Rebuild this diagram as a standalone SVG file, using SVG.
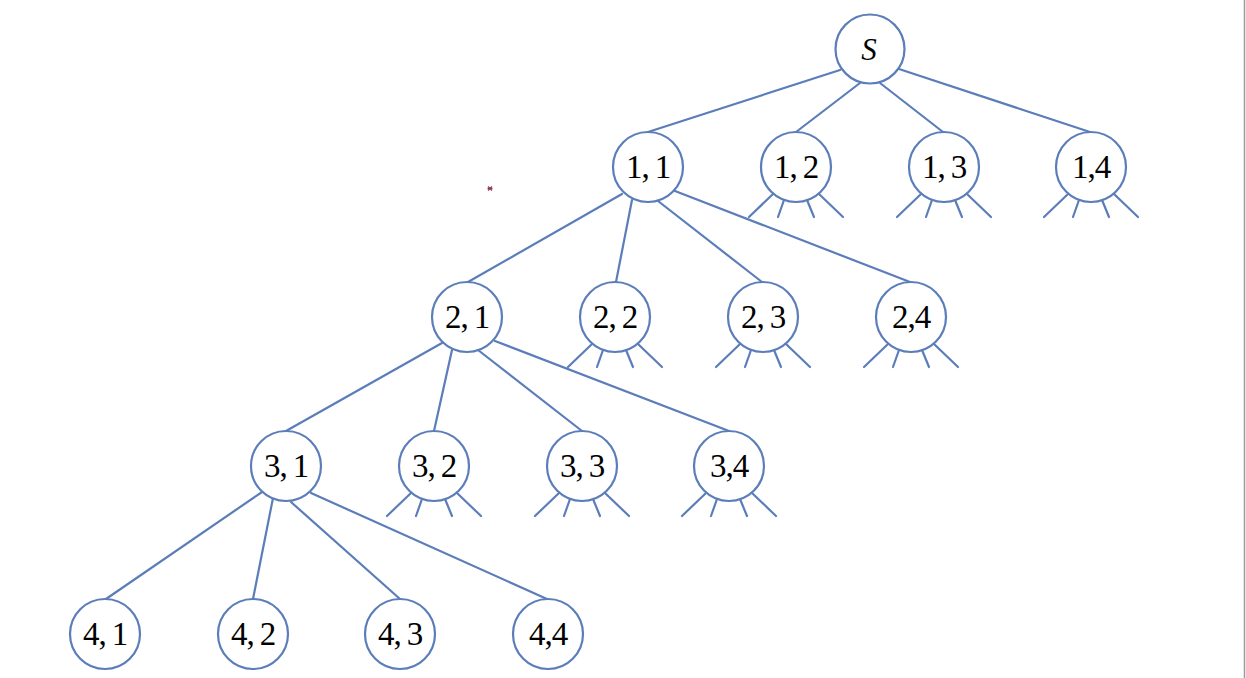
<svg xmlns="http://www.w3.org/2000/svg" xmlns:xlink="http://www.w3.org/1999/xlink" width="1246" height="678" viewBox="0 0 1246 678">
<style>
  .n circle { fill: #ffffff; stroke: #5B7DB9; stroke-width: 2.2; }
  .n text { font-family: "Liberation Serif", "Times New Roman", serif; font-size: 33px; fill: #000; text-anchor: middle; letter-spacing: -1px; }
  .n text.s { font-style: italic; font-size: 31px; letter-spacing: 0; }
  .e line, .stub line { stroke: #5B7DB9; stroke-width: 2.2; stroke-linecap: round; fill: none; }
</style>
<defs>
  <g id="stubs" class="stub">
    <line x1="-23" y1="27" x2="-47" y2="50"/>
    <line x1="-12" y1="33" x2="-18" y2="50"/>
    <line x1="11" y1="33" x2="18" y2="50"/>
    <line x1="23" y1="27" x2="47" y2="50"/>
  </g>
</defs>
<rect x="0" y="0" width="1246" height="678" fill="#ffffff"/>
<line x1="1244.5" y1="0" x2="1244.5" y2="678" stroke="#9a9a9a" stroke-width="1.5"/>
<g id="mark" stroke="#8a3a4c" stroke-width="1.2">
  <line x1="488" y1="186.5" x2="492" y2="190.5"/>
  <line x1="492" y1="186.5" x2="488" y2="190.5"/>
  <line x1="487.5" y1="188.5" x2="492.5" y2="188.5"/>
</g>

<g id="connectors" class="e">
  <line x1="840" y1="70" x2="648" y2="132"/>
  <line x1="860" y1="83" x2="796" y2="132"/>
  <line x1="880" y1="83" x2="943" y2="132"/>
  <line x1="899" y1="69" x2="1090" y2="132"/>

  <line x1="622" y1="194" x2="468" y2="282"/>
  <line x1="632" y1="200" x2="616" y2="282"/>
  <line x1="658" y1="201" x2="762" y2="282"/>
  <line x1="675" y1="191" x2="910" y2="282"/>

  <line x1="442" y1="343" x2="286" y2="431"/>
  <line x1="452" y1="350" x2="434" y2="431"/>
  <line x1="478" y1="350" x2="582" y2="431"/>
  <line x1="495" y1="341" x2="729" y2="431"/>

  <line x1="262" y1="492" x2="106" y2="599"/>
  <line x1="273" y1="498" x2="253" y2="599"/>
  <line x1="291" y1="502" x2="400" y2="599"/>
  <line x1="311" y1="493" x2="547" y2="599"/>

  <use xlink:href="#stubs" href="#stubs" x="796" y="167"/>
  <use xlink:href="#stubs" href="#stubs" x="944" y="167"/>
  <use xlink:href="#stubs" href="#stubs" x="1091" y="167"/>
  <use xlink:href="#stubs" href="#stubs" x="615" y="317"/>
  <use xlink:href="#stubs" href="#stubs" x="763" y="317"/>
  <use xlink:href="#stubs" href="#stubs" x="911" y="317"/>
  <use xlink:href="#stubs" href="#stubs" x="434" y="466"/>
  <use xlink:href="#stubs" href="#stubs" x="582" y="466"/>
  <use xlink:href="#stubs" href="#stubs" x="729" y="466"/>
</g>

<g id="node-S" class="n"><circle cx="870" cy="49" r="34.5"/><text class="s" x="869" y="60">S</text></g>

<g id="node-1-1" class="n"><circle cx="648" cy="167" r="35"/><text x="648" y="178">1,<tspan dx="6">1</tspan></text></g>
<g id="node-1-2" class="n"><circle cx="796" cy="167" r="35"/><text x="796" y="178">1,<tspan dx="6">2</tspan></text></g>
<g id="node-1-3" class="n"><circle cx="944" cy="167" r="35"/><text x="944" y="178">1,<tspan dx="6">3</tspan></text></g>
<g id="node-1-4" class="n"><circle cx="1091" cy="167" r="35"/><text x="1091" y="178">1,4</text></g>

<g id="node-2-1" class="n"><circle cx="467" cy="317" r="35"/><text x="467" y="328">2,<tspan dx="6">1</tspan></text></g>
<g id="node-2-2" class="n"><circle cx="615" cy="317" r="35"/><text x="615" y="328">2,<tspan dx="6">2</tspan></text></g>
<g id="node-2-3" class="n"><circle cx="763" cy="317" r="35"/><text x="763" y="328">2,<tspan dx="6">3</tspan></text></g>
<g id="node-2-4" class="n"><circle cx="911" cy="317" r="35"/><text x="911" y="328">2,4</text></g>

<g id="node-3-1" class="n"><circle cx="286" cy="466" r="35"/><text x="286" y="477">3,<tspan dx="6">1</tspan></text></g>
<g id="node-3-2" class="n"><circle cx="434" cy="466" r="35"/><text x="434" y="477">3,<tspan dx="6">2</tspan></text></g>
<g id="node-3-3" class="n"><circle cx="582" cy="466" r="35"/><text x="582" y="477">3,<tspan dx="6">3</tspan></text></g>
<g id="node-3-4" class="n"><circle cx="729" cy="466" r="35"/><text x="729" y="477">3,4</text></g>

<g id="node-4-1" class="n"><circle cx="105" cy="634" r="35"/><text x="105" y="645">4,<tspan dx="6">1</tspan></text></g>
<g id="node-4-2" class="n"><circle cx="253" cy="634" r="35"/><text x="253" y="645">4,<tspan dx="6">2</tspan></text></g>
<g id="node-4-3" class="n"><circle cx="400" cy="634" r="35"/><text x="400" y="645">4,<tspan dx="6">3</tspan></text></g>
<g id="node-4-4" class="n"><circle cx="548" cy="634" r="35"/><text x="548" y="645">4,4</text></g>
</svg>
